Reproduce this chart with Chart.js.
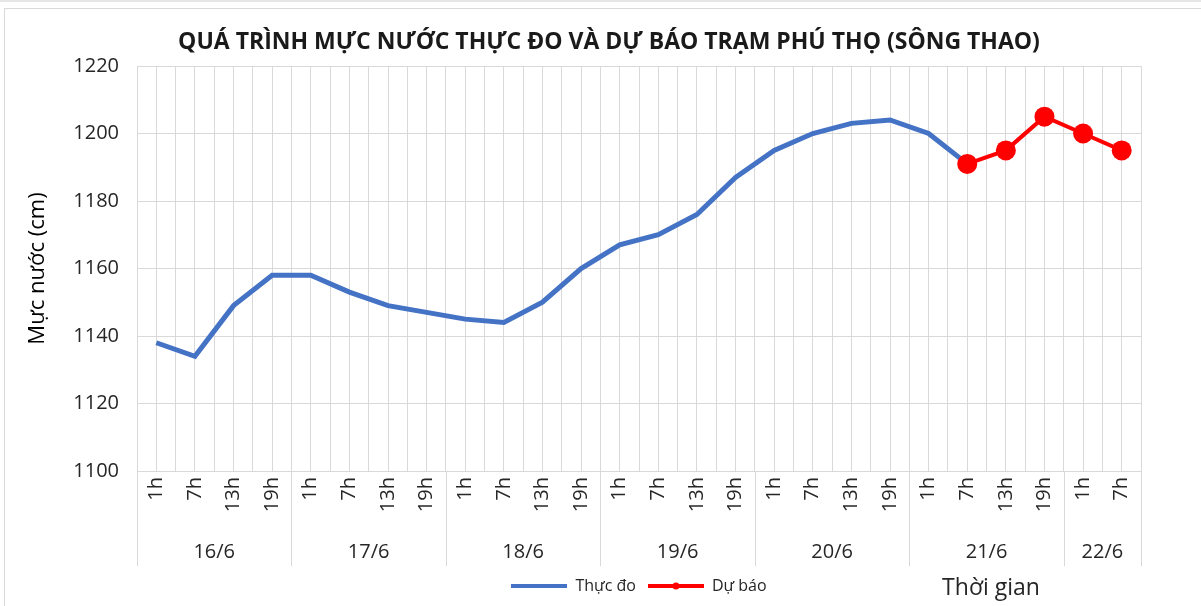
<!DOCTYPE html>
<html lang="vi">
<head>
<meta charset="utf-8">
<title>Mực nước trạm Phú Thọ</title>
<script src="https://cdn.jsdelivr.net/npm/chart.js@4.4.1/dist/chart.umd.min.js"></script>
<style>
  html, body { margin: 0; padding: 0; background: #fff; }
  .frame {
    position: absolute; left: 4px; top: 8px; width: 1197px; height: 598px;
    border-left: 1px solid #d9d9d9; border-top: 1px solid #d9d9d9; box-sizing: border-box;
  }
  .topline { position: absolute; left: 0; top: 0; width: 1201px; height: 2px; background: #e6e6e6; }
  canvas { position: absolute; left: 0; top: 0; }
</style>
</head>
<body>
<div class="topline"></div>
<div class="frame"></div>
<canvas id="levelChart" width="1201" height="606"></canvas>
<script>
const chartTitle = "QUÁ TRÌNH MỰC NƯỚC THỰC ĐO VÀ DỰ BÁO TRẠM PHÚ THỌ (SÔNG THAO)";
const dayLabels = ["16/6", "17/6", "18/6", "19/6", "20/6", "21/6", "22/6"];
const hoursPerDay = [4, 4, 4, 4, 4, 4, 2];
const hourLabels = [
  "1h", "7h", "13h", "19h",
  "1h", "7h", "13h", "19h",
  "1h", "7h", "13h", "19h",
  "1h", "7h", "13h", "19h",
  "1h", "7h", "13h", "19h",
  "1h", "7h", "13h", "19h",
  "1h", "7h"
];
// water level (cm), measured
const observed = [
  1138, 1134, 1149, 1158,
  1158, 1153, 1149, 1147,
  1145, 1144, 1150, 1160,
  1167, 1170, 1176, 1187,
  1195, 1200, 1203, 1204,
  1200, 1191
];
// forecast, starting at 21/6 7h
const forecast = [1191, 1195, 1205, 1200, 1195];
const forecastStart = 21;

const yTicks = { min: 1100, max: 1220, step: 20 };

const fontFamily = "'Open Sans', sans-serif";
const textColor = "#262626";
const gridColor = "#d9d9d9";

const observedSeries = hourLabels.map((_, i) => (i < observed.length ? observed[i] : null));
const forecastSeries = hourLabels.map((_, i) =>
  i >= forecastStart && i < forecastStart + forecast.length ? forecast[i - forecastStart] : null
);

function legendSwatch(color, lineH, dotR) {
  const c = document.createElement("canvas");
  c.width = 56;
  c.height = 10;
  const g = c.getContext("2d");
  g.fillStyle = color;
  g.fillRect(0, 5 - lineH / 2, 56, lineH);
  if (dotR) {
    g.beginPath();
    g.arc(28, 5, dotR, 0, Math.PI * 2);
    g.fill();
  }
  return c;
}
const swatches = [legendSwatch("#4472C4", 4, 0), legendSwatch("#FF0000", 4, 3.5)];

// title, second row of the x axis (days + separators) and the axis caption
const dayGroups = {
  id: "dayGroups",
  afterDraw(chart) {
    const ctx = chart.ctx;
    const xs = chart.scales.x;
    const area = chart.chartArea;
    const half = (xs.getPixelForValue(1) - xs.getPixelForValue(0)) / 2;
    ctx.save();
    ctx.textAlign = "center";
    ctx.textBaseline = "middle";

    ctx.fillStyle = "#1a1a1a";
    ctx.font = `bold 23px ${fontFamily}`;
    ctx.fillText(chartTitle, (area.left + area.right) / 2 - 30, area.top - 24);

    ctx.strokeStyle = gridColor;
    ctx.lineWidth = 1;
    ctx.fillStyle = textColor;
    ctx.font = `20px ${fontFamily}`;
    let idx = 0;
    dayLabels.forEach((day, k) => {
      const n = hoursPerDay[k];
      const left = xs.getPixelForValue(idx) - half;
      const right = xs.getPixelForValue(idx + n - 1) + half;
      const edges = k === dayLabels.length - 1 ? [left, right] : [left];
      edges.forEach((x) => {
        const px = Math.round(x) + 0.5;
        ctx.beginPath();
        ctx.moveTo(px, area.bottom);
        ctx.lineTo(px, area.bottom + 95);
        ctx.stroke();
      });
      ctx.fillText(day, (left + right) / 2, area.bottom + 81);
      idx += n;
    });
    ctx.font = `23px ${fontFamily}`;
    ctx.fillText("Thời gian", area.right - 150, chart.height - 18);
    ctx.restore();
  }
};

new Chart(document.getElementById("levelChart"), {
  type: "line",
  data: {
    labels: hourLabels,
    datasets: [
      {
        label: "Thực đo",
        data: observedSeries,
        borderColor: "#4472C4",
        backgroundColor: "#4472C4",
        borderWidth: 5,
        pointRadius: 0,
        tension: 0,
        xAxisID: "x",
        yAxisID: "y",
        order: 2
      },
      {
        label: "Dự báo",
        data: forecastSeries,
        borderColor: "#FF0000",
        backgroundColor: "#FF0000",
        borderWidth: 4,
        pointRadius: 10,
        pointHoverRadius: 10,
        pointBorderWidth: 0,
        tension: 0,
        xAxisID: "x",
        yAxisID: "y",
        order: 1
      }
    ]
  },
  options: {
    responsive: false,
    animation: false,
    layout: { padding: { top: 66, left: 25, right: 60, bottom: 2 } },
    plugins: {
      legend: {
        position: "bottom",
        fullSize: false,
        labels: {
          usePointStyle: true,
          pointStyleWidth: 56,
          color: textColor,
          font: { family: fontFamily, size: 16 },
          padding: 12,
          sort: (a, b) => a.datasetIndex - b.datasetIndex,
          generateLabels(chart) {
            const items = Chart.defaults.plugins.legend.labels.generateLabels(chart);
            items.forEach((item) => { item.pointStyle = swatches[item.datasetIndex]; });
            return items;
          }
        }
      },
      tooltip: { enabled: false }
    },
    scales: {
      x: {
        type: "category",
        offset: true,
        grid: { offset: true, color: gridColor, drawTicks: false },
        border: { display: false },
        ticks: {
          autoSkip: false,
          maxRotation: 90,
          minRotation: 90,
          padding: 6,
          color: textColor,
          font: { family: fontFamily, size: 20 }
        },
        afterFit(scale) { scale.height = 95; }
      },
      x2: {
        type: "category",
        position: "top",
        labels: hourLabels,
        offset: true,
        grid: { offset: false, color: gridColor, drawTicks: false },
        border: { display: false },
        ticks: { display: false },
        afterFit(scale) { scale.height = 0; }
      },
      y: {
        min: yTicks.min,
        max: yTicks.max,
        ticks: {
          stepSize: yTicks.step,
          padding: 18,
          color: textColor,
          font: { family: fontFamily, size: 20 },
          callback: (v) => String(v)
        },
        grid: { color: gridColor, drawTicks: false },
        border: { display: false },
        title: {
          display: true,
          text: "Mực nước (cm)",
          color: "#000",
          font: { family: fontFamily, size: 22 },
          padding: 0
        },
        afterFit(scale) { scale.width = 112; }
      }
    }
  },
  plugins: [dayGroups]
});
</script>
</body>
</html>
